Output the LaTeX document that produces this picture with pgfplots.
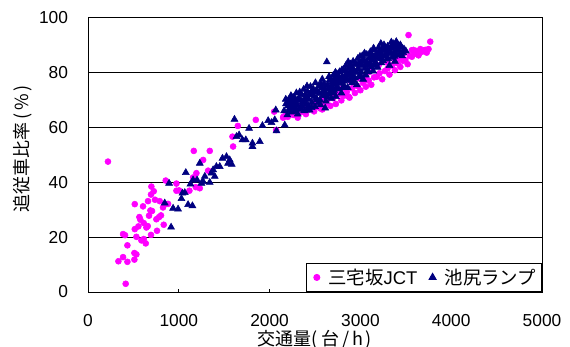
\documentclass[border=0pt]{standalone}
\usepackage{pgfplots}
\pgfplotsset{compat=1.18}
\usepackage{fontspec}
\setmainfont{Liberation Sans}
\newfontfamily\cjk{Noto Sans CJK JP}
\definecolor{mag}{HTML}{FF00FF}
\definecolor{nav}{HTML}{000080}
\begin{document}
\begin{tikzpicture}
\begin{axis}[
  scale only axis, width=340.5pt, height=205.875pt,
  xmin=0, xmax=5000, ymin=0, ymax=100,
  xtick={0,1000,2000,3000,4000,5000},
  ytick={0,20,40,60,80,100},
  /pgf/number format/assume math mode=true,
  /pgf/number format/1000 sep={},
  ticklabel style={font=\fontsize{13}{15}\selectfont},
  xticklabel style={yshift=-13pt},
  yticklabel style={xshift=-11.5pt},
  tick align=inside, xtick pos=bottom,
  major tick length=2.5pt,
  xtick style={black, line width=0.75pt},
  ytick style={draw=none},
  ymajorgrids, major grid style={black, line width=0.75pt},
  axis line style={black, line width=0.75pt},
  xlabel={\cjk 交通量(\,台\,/\,h\,)},
  xlabel style={at={(axis description cs:0.5,0)}, anchor=north, yshift=-28.5pt, inner sep=0pt, font=\fontsize{13.5}{15}\selectfont},
  ylabel={\cjk 追従車比率\,(\,\%\,)},
  ylabel style={at={(axis description cs:-0.1432,0.521)}, anchor=center, inner sep=0pt, font=\fontsize{13.5}{15}\selectfont},
  legend image code/.code={\path (-5pt,0pt) (0pt,0pt); \draw[#1] plot coordinates {(0pt,0pt)};},
  legend style={at={(1,0)}, anchor=south east, draw=black, line width=0.75pt, fill=white,
    font=\fontsize{13.8}{15}\selectfont, legend columns=2,
    /tikz/every odd column/.append style={column sep=4.5pt},
    /tikz/every even column/.append style={column sep=4pt},
    inner sep=2pt},
]
\addplot[only marks, mark=*, mark size=2.25pt, color=mag, mark options={draw=mag, fill=mag}] table {
x y
220 47.5
335 11.2
386 12.7
386 21.1
408 20.7
434 17.0
415 3.0
434 11.0
511 11.8
511 14.2
533 13.7
515 32.0
515 22.9
533 20.1
555 23.9
566 27.3
577 26.3
588 18.8
606 31.2
614 25.1
614 19.3
636 17.7
643 23.5
661 33.1
658 24.0
672 27.8
687 29.7
694 35.5
694 20.8
698 38.4
705 29.5
724 36.7
738 33.6
753 26.5
760 22.3
783 27.3
790 33.1
804 27.9
826 30.8
834 24.5
845 32.0
856 40.6
882 32.1
974 39.5
974 36.9
1003 37.0
1117 36.9
1165 51.4
1157 41.7
1194 43.3
1187 38.2
1231 37.8
1268 48.1
1323 44.2
1341 51.4
1591 56.6
1598 53.0
1650 60.5
1848 62.7
2050 65.7
2072 59.0
2149 63.5
2152 63.9
2189 65.1
2193 64.7
2208 65.1
2200 63.8
2230 65.8
2260 64.5
2290 66.2
2310 63.5
2340 65.5
2350 68.0
2370 67.0
2400 64.8
2430 66.5
2460 68.0
2480 69.0
2490 65.8
2520 67.5
2550 69.0
2557 66.9
2580 66.5
2600 70.5
2610 68.8
2640 70.2
2670 67.8
2700 70.6
2700 72.5
2730 68.5
2760 72.0
2790 69.8
2800 74.0
2820 71.5
2850 73.0
2870 71.2
2880 70.8
2900 76.5
2910 74.2
2940 72.5
2970 75.0
2990 77.8
3000 73.5
3030 76.2
3050 78.5
3060 74.8
3090 77.0
3100 80.2
3120 75.5
3150 78.2
3180 78.4
3200 82.5
3210 79.7
3240 77.5
3270 80.5
3300 81.5
3300 83.5
3320 79.2
3350 82.5
3380 80.8
3380 84.2
3410 83.3
3420 85.0
3440 82.0
3470 84.2
3480 87.0
3495 84.5
3520 83.0
3530 93.6
3545 86.0
3567 85.7
3567 88.1
3585 88.2
3600 86.8
3620 87.8
3640 86.2
3660 88.5
3677 87.5
3700 88.0
3714 88.2
3730 87.2
3750 88.5
3769 91.2
};
\addlegendentry{{\cjk 三宅坂}JCT}
\addplot[only marks, mark=triangle*, mark size=3pt, color=nav, mark options={draw=nav, fill=nav}] table {
x y
845 32.4
893 39.6
915 23.6
937 30.5
992 30.2
1029 34.0
1040 36.0
1066 36.2
1077 43.5
1102 31.8
1150 31.4
1128 39.3
1157 40.8
1201 40.8
1231 46.9
1249 39.6
1268 40.2
1286 42.1
1341 39.9
1359 43.3
1378 44.5
1396 42.1
1414 45.7
1451 45.7
1481 48.7
1525 49.3
1543 46.9
1561 48.1
1583 46.5
1613 62.9
1635 56.6
1664 57.2
1701 55.4
1738 55.4
1774 59.6
1811 53.0
1811 54.2
1892 54.8
1921 60.6
1984 62.4
2021 61.7
2057 62.7
2068 66.3
2076 58.7
2167 60.8
2178 70.2
2222 69.3
2241 67.5
2259 69.9
2296 68.7
2160 66.0
2180 68.5
2195 64.5
2210 70.0
2225 67.2
2240 65.5
2255 69.0
2270 71.0
2285 66.8
2300 68.2
2310 64.8
2325 70.5
2340 67.0
2350 72.0
2365 69.3
2380 66.0
2390 71.8
2405 68.5
2410 66.3
2415 73.0
2430 70.2
2440 66.3
2455 72.5
2465 69.0
2480 74.0
2490 71.2
2500 67.5
2515 73.2
2525 70.0
2540 75.0
2550 72.3
2560 68.2
2575 74.5
2585 71.5
2600 76.0
2610 73.0
2612 67.0
2620 69.5
2630 83.8
2640 75.5
2650 72.0
2660 77.2
2670 74.2
2680 70.5
2690 76.5
2700 78.8
2710 73.5
2720 75.8
2730 71.2
2740 79.5
2750 77.0
2760 74.0
2770 80.2
2780 76.0
2790 72.5
2800 78.5
2810 81.0
2820 75.2
2830 77.8
2840 82.5
2850 79.8
2860 74.5
2870 81.5
2880 77.0
2890 83.0
2900 79.2
2910 76.2
2920 84.0
2930 80.5
2940 78.0
2950 82.8
2960 75.5
2970 85.0
2980 81.2
2990 78.8
3000 83.5
3010 80.0
3020 86.0
3030 77.5
3040 84.2
3050 81.5
3060 79.0
3070 86.5
3080 83.0
3090 80.2
3100 85.2
3110 87.5
3120 82.0
3130 84.5
3140 80.5
3150 88.2
3160 85.8
3170 83.2
3180 87.0
3190 81.8
3200 89.0
3210 85.0
3220 86.8
3230 83.5
3240 88.5
3250 84.2
3260 90.0
3270 86.2
3280 88.0
3290 84.8
3300 89.5
3310 86.8
3320 82.5
3330 88.8
3340 91.0
3350 85.5
3360 90.5
3370 87.2
3380 84.0
3390 89.2
3400 86.5
3420 88.2
3440 90.0
3460 86.0
3480 88.5
3500 87.8
2205 67.8
2235 71.5
2265 68.0
2295 72.5
2320 66.5
2345 69.8
2375 73.8
2400 70.8
2425 67.8
2450 74.8
2475 71.8
2505 76.2
2530 72.8
2555 70.0
2580 77.5
2605 74.2
2635 71.0
2655 78.5
2685 75.0
2705 72.5
2725 80.0
2745 76.5
2765 78.0
2795 80.8
2815 76.8
2845 79.0
2865 83.8
2895 80.8
2915 78.5
2945 83.2
2965 81.0
2995 85.8
3015 82.5
3045 87.0
3065 84.0
3095 82.8
3115 86.0
3145 88.8
3165 83.8
3195 86.5
3225 90.5
3245 86.0
3275 88.8
3305 85.0
3335 87.0
3365 89.0
3395 91.2
3430 86.5
2215 66.2
2248 70.8
2278 65.8
2305 70.0
2332 72.8
2358 67.8
2385 70.2
2412 75.0
2438 72.0
2462 67.2
2488 73.0
2512 70.5
2538 69.0
2562 75.8
2588 73.0
2615 71.5
2645 74.0
2668 72.5
2695 73.2
2715 77.5
2738 74.5
2758 78.8
2785 77.2
2808 74.5
2835 80.5
2858 77.5
2882 79.5
2905 82.0
2928 77.0
2955 80.0
2978 83.2
3005 78.5
3028 84.5
3055 82.8
3078 80.8
3105 83.5
3128 86.2
3155 82.5
3178 85.5
3205 87.5
3232 85.0
3255 88.0
3285 86.0
3315 88.5
3345 89.5
3375 85.8
3405 88.0
3450 89.2
3470 87.2
3410 90.2
};
\addlegendentry{{\cjk 池尻ランプ}}
\end{axis}
\pgfresetboundingbox
\path ([shift={(-66pt,-40.5pt)}]current axis.south west) rectangle ([shift={(21pt,13.125pt)}]current axis.north east);
\end{tikzpicture}
\end{document}
